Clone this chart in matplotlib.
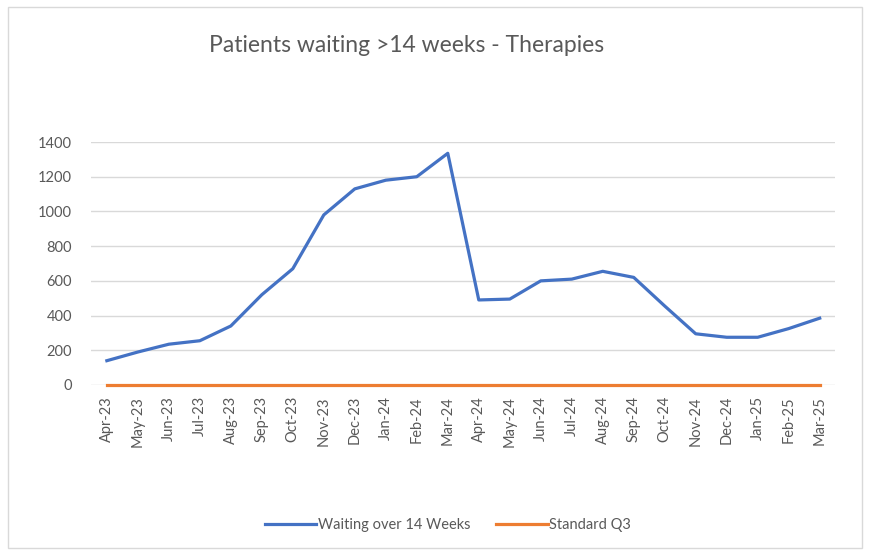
import matplotlib.pyplot as plt
from matplotlib.patches import Rectangle

months = ['Apr-23', 'May-23', 'Jun-23', 'Jul-23', 'Aug-23', 'Sep-23', 'Oct-23', 'Nov-23',
          'Dec-23', 'Jan-24', 'Feb-24', 'Mar-24', 'Apr-24', 'May-24', 'Jun-24', 'Jul-24',
          'Aug-24', 'Sep-24', 'Oct-24', 'Nov-24', 'Dec-24', 'Jan-25', 'Feb-25', 'Mar-25']
waiting = [140, 190, 235, 255, 340, 520, 670, 980, 1130, 1180, 1200, 1335,
           490, 495, 600, 610, 655, 620, 455, 295, 275, 275, 325, 385]
standard = [0] * len(months)

plt.rcParams['font.family'] = ['Lato', 'DejaVu Sans']
grey = '#595959'

fig = plt.figure(figsize=(8.7, 5.53), dpi=100)
fig.patches.append(Rectangle((0.009, 0.009), 0.982, 0.978, transform=fig.transFigure,
                             fill=False, edgecolor='#d9d9d9', linewidth=1))
ax = fig.add_axes([0.105, 0.3038, 0.855, 0.4394])

x = range(len(months))
ax.plot(x, waiting, color='#4472C4', linewidth=2.3, label='Waiting over 14 Weeks', zorder=3)
ax.plot(x, standard, color='#ED7D31', linewidth=2.3, label='Standard Q3', zorder=3,
        clip_on=False)

ax.set_xlim(-0.5, len(months) - 0.5)
ax.set_ylim(0, 1400)
ax.set_yticks(range(0, 1401, 200))
ax.set_xticks(list(x))
ax.set_xticklabels(months, rotation=90, fontsize=10.5, color=grey)
ax.tick_params(axis='y', labelsize=10.5, labelcolor=grey, length=0, pad=14)
ax.tick_params(axis='x', length=0, pad=8)
ax.grid(axis='y', color='#d9d9d9', linewidth=1)
ax.set_axisbelow(True)
for s in ax.spines.values():
    s.set_visible(False)

fig.text(0.467, 0.918, 'Patients waiting >14 weeks - Therapies', ha='center', va='center',
         fontsize=16.5, color=grey)
fig.legend(loc='center', bbox_to_anchor=(0.515, 0.05), ncol=2, frameon=False,
           fontsize=10.5, labelcolor=grey, handlelength=3.5, handletextpad=0.1,
           columnspacing=1.8)

fig.savefig('out.png', dpi=100)
